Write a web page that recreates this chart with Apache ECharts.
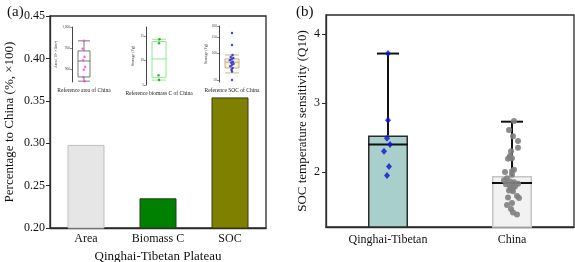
<!DOCTYPE html>
<html><head><meta charset="utf-8">
<script src="https://cdn.jsdelivr.net/npm/echarts@6/dist/echarts.min.js"></script>
<style>html,body{margin:0;padding:0;background:#fff}#c{width:575px;height:262px}</style>
</head><body><div id="c"></div>
<script>
// ---- Panel (a) data ----
const aCategories = ['Area', 'Biomass C', 'SOC'];
const aValues = [0.298, 0.235, 0.354];
const aColors = ['#e6e6e6', '#008000', '#808000'];
const aBorders = ['#bdbdbd', '#1f3f1f', '#3a3a10'];
// insets: box = [min, Q1, median, Q3, max]
const inAreaBox = [871, 881, 919, 943, 967];
const inAreaPts = [967, 948, 929, 921, 905, 898, 881, 871];
const inAreaJit = [0.5, 0.44, 0.52, 0.46, 0.55, 0.49, 0.47, 0.53];
const inBioBox = [6.0, 6.55, 10.3, 13.85, 14.3];
const inBioPts = [14.3, 13.5, 7.0, 6.0];
const inBioJit = [0.52, 0.5, 0.48, 0.5];
const inSocBox = [60, 68, 79, 86, 95];
const inSocPts = [167, 123, 95, 90, 88, 85, 83, 80, 78, 76, 74, 71, 68, 65, 62, 50];
const inSocJit = [0.5, 0.5, 0.52, 0.45, 0.55, 0.48, 0.42, 0.53, 0.47, 0.56, 0.5, 0.44, 0.52, 0.48, 0.5, 0.5];

// ---- Panel (b) data ----
const bCategories = ['Qinghai-Tibetan', 'China'];
const bMeans = [2.53, 1.94];
const bMedians = [2.40, 1.84];
const bWhiskerTop = [3.72, 2.73];
const qtQ10 = [3.72, 2.75, 2.49, 2.40, 2.30, 2.08, 1.95];
const qtJitPx = [0, 0, -1, 2, -4, 1, -1];
const chinaQ10 = [2.74, 2.61, 2.52, 2.45, 2.35, 2.30, 2.23, 2.20, 2.19, 2.21, 2.03, 2.01, 2.00, 1.96, 1.91, 1.88, 1.86, 1.85, 1.83, 1.80, 1.78, 1.76, 1.74, 1.72, 1.73, 1.65, 1.62, 1.63, 1.55, 1.52, 1.46, 1.41, 1.38, 1.82, 1.79];
const chinaJitPx = [2, -3, 1, 6, 6, -1, -2, 0, -4, -2, 2, 0, -7, 0, -5, -8, -2, 2, 6, -2, 1, -1, 0, 1, -3, 5, 7, -4, 0, -5, -1, 1, 5, -6, 3];
const bTicks = [2, 3, 4];

const FONT = 'Liberation Serif';
const AX = '#2b2b2b';
const chart = echarts.init(document.getElementById('c'), null, {renderer: 'canvas'});

function insetY(gi, min, max, ticks, name, type) {
  return {
    gridIndex: gi, type: type || 'value', min: min, max: max,
    name: name, nameLocation: 'middle', nameGap: 11,
    nameTextStyle: {fontFamily: FONT, fontSize: 4, color: '#333'},
    axisLine: {show: true, lineStyle: {color: '#444', width: 1}},
    axisTick: {show: true, length: 2, customValues: ticks, lineStyle: {color: '#444', width: 0.6}},
    axisLabel: {fontFamily: FONT, fontSize: 3.5, color: '#444', margin: 2, customValues: ticks},
    splitLine: {show: false}
  };
}
function insetXcat(gi, name) {
  return {
    gridIndex: gi, type: 'category', data: [''],
    name: name, nameLocation: 'middle', nameGap: 6,
    nameTextStyle: {fontFamily: FONT, fontSize: 5.5, color: '#222'},
    axisLine: {show: false}, axisTick: {show: false}, axisLabel: {show: false}
  };
}
function insetXval(gi) {
  return {gridIndex: gi, type: 'value', min: 0, max: 1, show: false, position: 'top'};
}

const wcat = 124; // px per category in panel b (used only to turn jitter pixels into axis units)

const option = {
  animation: false,
  backgroundColor: '#fff',
  title: [
    {text: '(a)', left: 2, top: 0, textStyle: {fontFamily: FONT, fontSize: 15, fontWeight: 'normal', color: '#111'}},
    {text: '(b)', left: 291, top: 0, textStyle: {fontFamily: FONT, fontSize: 15, fontWeight: 'normal', color: '#111'}}
  ],
  grid: [
    {left: 50, top: 16, width: 216, height: 212, show: true, borderColor: AX, borderWidth: 1.3, backgroundColor: 'transparent', outerBoundsMode: 'none', containLabel: false},
    {left: 326, top: 15, width: 248, height: 212, show: true, borderColor: AX, borderWidth: 1.3, backgroundColor: 'transparent', outerBoundsMode: 'none', containLabel: false},
    {left: 72, top: 27, width: 24, height: 55, outerBoundsMode: 'none'},
    {left: 146, top: 27, width: 26, height: 58, outerBoundsMode: 'none'},
    {left: 219, top: 26, width: 26, height: 56, outerBoundsMode: 'none'}
  ],
  xAxis: [
    {gridIndex: 0, type: 'category', data: aCategories,
     name: 'Qinghai-Tibetan Plateau', nameLocation: 'middle', nameGap: 21,
     nameTextStyle: {fontFamily: FONT, fontSize: 13, color: '#111'},
     axisLine: {lineStyle: {color: AX, width: 1.3}},
     axisTick: {alignWithLabel: true, length: 4, lineStyle: {color: AX}},
     axisLabel: {fontFamily: FONT, fontSize: 12, color: '#111', margin: 5}},
    {gridIndex: 1, type: 'category', data: bCategories,
     axisLine: {lineStyle: {color: AX, width: 1.3}},
     axisTick: {alignWithLabel: true, length: 4, lineStyle: {color: AX}},
     axisLabel: {fontFamily: FONT, fontSize: 12, color: '#111', margin: 7}},
    {gridIndex: 1, type: 'value', min: 0, max: 2, show: false, position: 'top'},
    insetXcat(2, 'Reference area of China'),
    insetXval(2),
    insetXcat(3, 'Reference biomass C of China'),
    insetXval(3),
    insetXcat(4, 'Reference SOC of China'),
    insetXval(4)
  ],
  yAxis: [
    {gridIndex: 0, type: 'value', min: 0.2, max: 0.45, interval: 0.05,
     name: 'Percentage to China (%, \u00d7100)', nameLocation: 'middle', nameGap: 34,
     nameTextStyle: {fontFamily: FONT, fontSize: 13, color: '#111'},
     axisLine: {show: true, lineStyle: {color: AX, width: 1.3}},
     axisTick: {show: true, length: 4, lineStyle: {color: AX}},
     axisLabel: {fontFamily: FONT, fontSize: 12, color: '#111', margin: 5, formatter: v => v.toFixed(2)},
     splitLine: {show: false}},
    {gridIndex: 1, type: 'value', min: 1.2, max: 4.28,
     name: 'SOC temperature sensitivity (Q10)', nameLocation: 'middle', nameGap: 17,
     nameTextStyle: {fontFamily: FONT, fontSize: 13, color: '#111'},
     axisLine: {show: true, lineStyle: {color: AX, width: 1.3}},
     axisTick: {show: true, length: 4, customValues: bTicks, lineStyle: {color: AX}},
     axisLabel: {fontFamily: FONT, fontSize: 12, color: '#111', margin: 6, customValues: bTicks},
     splitLine: {show: false}},
    insetY(2, 869, 1000, [900, 950, 1000], 'Area (10\u2074 \u00d7 km\u00b2)'),
    insetY(3, 5, 16.8, [5, 10, 15], 'Storage (Pg)'),
    insetY(4, 47.5, 200, [50, 100, 150, 200], 'Storage (Pg)', 'log')
  ],
  series: [
    // (a) bars
    {type: 'bar', xAxisIndex: 0, yAxisIndex: 0, barWidth: 37,
     data: aValues.map((v, i) => ({value: v, itemStyle: {color: aColors[i], borderColor: aBorders[i], borderWidth: 1}}))},
    // (b) bars
    {type: 'bar', xAxisIndex: 1, yAxisIndex: 1, barWidth: 40,
     data: [
       {value: bMeans[0], itemStyle: {color: '#a9cfcc', borderColor: '#2b2b2b', borderWidth: 1.5}},
       {value: bMeans[1], itemStyle: {color: '#f2f2f2', borderColor: '#c4c4c4', borderWidth: 1.5}}
     ], z: 2},
    // (b) whiskers
    {type: 'custom', xAxisIndex: 1, yAxisIndex: 1, z: 3,
     data: bMeans.map((m, i) => [i, m, bWhiskerTop[i]]),
     renderItem: function (params, api) {
       const p1 = api.coord([api.value(0), api.value(1)]);
       const p2 = api.coord([api.value(0), api.value(2)]);
       const st = {stroke: '#111', lineWidth: 2};
       return {type: 'group', children: [
         {type: 'line', shape: {x1: p1[0], y1: p1[1], x2: p2[0], y2: p2[1]}, style: st},
         {type: 'line', shape: {x1: p2[0] - 11, y1: p2[1], x2: p2[0] + 11, y2: p2[1]}, style: st}
       ]};
     }},
    // (b) medians
    {type: 'custom', xAxisIndex: 1, yAxisIndex: 1, z: 3,
     data: bMedians.map((m, i) => [i, m]),
     renderItem: function (params, api) {
       const p = api.coord([api.value(0), api.value(1)]);
       return {type: 'line', shape: {x1: p[0] - 20, y1: p[1], x2: p[0] + 20, y2: p[1]}, style: {stroke: '#111', lineWidth: 2}};
     }},
    // (b) points
    {type: 'scatter', xAxisIndex: 2, yAxisIndex: 1, z: 4, symbol: 'diamond', symbolSize: [6, 7],
     itemStyle: {color: '#0a14d0'},
     data: qtQ10.map((v, i) => [0.5 + qtJitPx[i] / wcat, v])},
    {type: 'scatter', xAxisIndex: 2, yAxisIndex: 1, z: 4, symbol: 'circle', symbolSize: 6,
     itemStyle: {color: '#808080', opacity: 0.9},
     data: chinaQ10.map((v, i) => [1.5 + chinaJitPx[i] / wcat, v])},
    // insets
    {type: 'boxplot', xAxisIndex: 3, yAxisIndex: 2, boxWidth: [12, 12],
     itemStyle: {color: 'transparent', borderColor: '#555', borderWidth: 0.8}, data: [inAreaBox]},
    {type: 'scatter', xAxisIndex: 4, yAxisIndex: 2, symbolSize: 2.5, itemStyle: {color: '#ff3cff'},
     data: inAreaPts.map((v, i) => [inAreaJit[i], v])},
    {type: 'boxplot', xAxisIndex: 5, yAxisIndex: 3, boxWidth: [14, 14],
     itemStyle: {color: 'transparent', borderColor: '#6ee86e', borderWidth: 0.8}, data: [inBioBox]},
    {type: 'scatter', xAxisIndex: 6, yAxisIndex: 3, symbolSize: 2.5, itemStyle: {color: '#0a9a0a'},
     data: inBioPts.map((v, i) => [inBioJit[i], v])},
    {type: 'boxplot', xAxisIndex: 7, yAxisIndex: 4, boxWidth: [14, 14],
     itemStyle: {color: 'rgba(230,210,170,0.4)', borderColor: '#c0a060', borderWidth: 0.8}, data: [inSocBox]},
    {type: 'scatter', xAxisIndex: 8, yAxisIndex: 4, symbolSize: 2.5, itemStyle: {color: '#1020e0'},
     data: inSocPts.map((v, i) => [inSocJit[i], v])}
  ]
};
chart.setOption(option);
</script>
</body></html>
